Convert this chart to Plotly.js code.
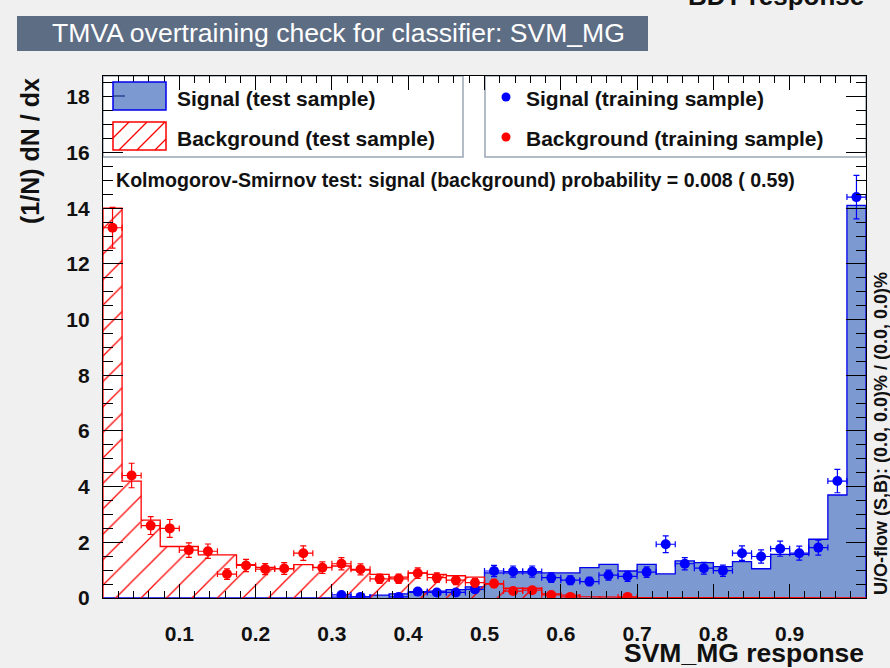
<!DOCTYPE html>
<html>
<head>
<meta charset="utf-8">
<script src="https://cdn.plot.ly/plotly-3.0.1.min.js"></script>
<style>
  html, body { margin: 0; padding: 0; background: #f0f0f0; }
  #plot { width: 890px; height: 668px; }
</style>
</head>
<body>
<div id="plot"></div>
<script>
// SVM_MG classifier response, 40 bins on [0, 1]
const binCenters = [
  0.0125, 0.0375, 0.0625, 0.0875, 0.1125, 0.1375, 0.1625, 0.1875, 0.2125, 0.2375,
  0.2625, 0.2875, 0.3125, 0.3375, 0.3625, 0.3875, 0.4125, 0.4375, 0.4625, 0.4875,
  0.5125, 0.5375, 0.5625, 0.5875, 0.6125, 0.6375, 0.6625, 0.6875, 0.7125, 0.7375,
  0.7625, 0.7875, 0.8125, 0.8375, 0.8625, 0.8875, 0.9125, 0.9375, 0.9625, 0.9875
];

// Test samples (histograms)
const signalTest = [
  0, 0, 0, 0, 0, 0, 0, 0, 0, 0,
  0, 0, 0.03, 0.05, 0.1, 0.15, 0.2, 0.25, 0.3, 0.4,
  0.9, 0.9, 0.9, 0.9, 0.9, 1.09, 1.21, 0.97, 1.21, 0.87,
  1.33, 1.27, 1.13, 1.31, 1.05, 1.57, 1.57, 2.11, 3.7, 14.1
];
const backgroundTest = [
  14.0, 4.2, 2.8, 1.85, 1.85, 1.55, 1.55, 1.2, 1.1, 1.05,
  1.2, 1.1, 1.15, 1.0, 0.85, 0.75, 0.9, 0.85, 0.8, 0.75,
  0.5, 0.35, 0.35, 0.15, 0.1, 0.05, 0.03, 0.02, 0, 0,
  0, 0, 0, 0, 0, 0, 0, 0, 0, 0
];

// Training samples (points with errors)
const signalTrain = [
  null, null, null, null, null, null, null, null, null, null,
  null, null, 0.11, 0.04, null, 0.04, 0.23, 0.2, 0.2, 0.31,
  0.97, 0.95, 0.95, 0.73, 0.64, 0.59, 0.82, 0.78, 0.93, 1.93,
  1.23, 1.07, 0.98, 1.61, 1.49, 1.77, 1.61, 1.81, 4.2, 14.4
];
const signalTrainErr = [
  null, null, null, null, null, null, null, null, null, null,
  null, null, 0.07, 0.04, null, 0.04, 0.1, 0.09, 0.09, 0.11,
  0.2, 0.2, 0.2, 0.17, 0.16, 0.15, 0.18, 0.18, 0.19, 0.3,
  0.22, 0.21, 0.2, 0.26, 0.24, 0.27, 0.25, 0.27, 0.42, 0.78
];
const backgroundTrain = [
  13.3, 4.4, 2.6, 2.5, 1.72, 1.68, 0.86, 1.17, 1.04, 1.06,
  1.61, 1.09, 1.23, 1.03, 0.69, 0.69, 0.89, 0.73, 0.64, 0.55,
  0.52, 0.25, 0.28, 0.11, 0.04, null, null, 0.04, null, null,
  null, null, null, null, null, null, null, null, null, null
];
const backgroundTrainErr = [
  0.73, 0.44, 0.32, 0.32, 0.26, 0.26, 0.19, 0.22, 0.2, 0.21,
  0.26, 0.21, 0.22, 0.2, 0.17, 0.17, 0.19, 0.17, 0.16, 0.15,
  0.15, 0.1, 0.11, 0.07, 0.04, null, null, 0.04, null, null,
  null, null, null, null, null, null, null, null, null, null
];

const xTicks = [0.1, 0.2, 0.3, 0.4, 0.5, 0.6, 0.7, 0.8, 0.9];
const yTicks = [0, 2, 4, 6, 8, 10, 12, 14, 16, 18];

const sigFill = '#7d99d1', sigLine = '#0000ee', bkgLine = '#ff0000';
const boldFont = 'Liberation Sans, Arial, Helvetica, sans-serif';

// Step outline of a histogram built from bin centres and contents
const binW = binCenters[1] - binCenters[0];
function stepOutline(vals) {
  const xs = [binCenters[0] - binW / 2], ys = [0];
  binCenters.forEach((c, i) => {
    xs.push(c - binW / 2, c + binW / 2);
    ys.push(vals[i], vals[i]);
  });
  xs.push(binCenters[binCenters.length - 1] + binW / 2);
  ys.push(0);
  return { x: xs, y: ys };
}

const sigStep = stepOutline(signalTest);
const bkgStep = stepOutline(backgroundTest);

const traces = [
  {
    type: 'scatter', mode: 'lines', x: sigStep.x, y: sigStep.y,
    line: { color: sigLine, width: 1.3 }, fill: 'tozeroy', fillcolor: sigFill,
    hoverinfo: 'skip', showlegend: false
  },
  {
    type: 'scatter', mode: 'lines', x: bkgStep.x, y: bkgStep.y,
    line: { color: bkgLine, width: 1.3 }, fill: 'tozeroy', fillcolor: 'rgba(0,0,0,0)',
    fillpattern: { shape: '/', fgcolor: bkgLine, bgcolor: 'rgba(0,0,0,0)', size: 18, solidity: 0.07 },
    hoverinfo: 'skip', showlegend: false
  },
  {
    type: 'scatter', mode: 'markers', x: binCenters, y: signalTrain,
    marker: { color: '#0000ff', size: 10 },
    error_y: { type: 'data', array: signalTrainErr, color: '#0000ff', thickness: 1.2, width: 3 },
    error_x: { type: 'constant', value: binW / 2, color: '#0000ff', thickness: 1.2, width: 3 },
    showlegend: false
  },
  {
    type: 'scatter', mode: 'markers', x: binCenters, y: backgroundTrain,
    marker: { color: '#ff0000', size: 10 },
    error_y: { type: 'data', array: backgroundTrainErr, color: '#ff0000', thickness: 1.2, width: 3 },
    error_x: { type: 'constant', value: binW / 2, color: '#ff0000', thickness: 1.2, width: 3 },
    showlegend: false
  }
];

// Frame geometry in pixels, for decorations placed in paper coordinates
const L = 103, R = 866, T = 76, B = 598;
const px = X => (X - L) / (R - L);
const py = Y => (B - Y) / (B - T);

const shapes = [
  // title banner
  { type: 'rect', xref: 'paper', yref: 'paper', x0: px(17), x1: px(648), y0: py(51), y1: py(16),
    fillcolor: '#5d6d84', line: { width: 0 } },
  // legend boxes
  { type: 'rect', xref: 'paper', yref: 'paper', layer: 'below', x0: px(103), x1: px(463), y0: py(157), y1: py(76),
    fillcolor: '#ffffff', line: { color: '#9aa5b5', width: 1.5 } },
  { type: 'rect', xref: 'paper', yref: 'paper', layer: 'below', x0: px(485), x1: px(866), y0: py(157), y1: py(76),
    fillcolor: '#ffffff', line: { color: '#9aa5b5', width: 1.5 } },
  // signal test swatch
  { type: 'rect', xref: 'paper', yref: 'paper', x0: px(113), x1: px(166), y0: py(110), y1: py(82),
    fillcolor: sigFill, line: { color: sigLine, width: 1.5 } },
  { type: 'line', xref: 'paper', yref: 'paper', x0: px(113), x1: px(125), y0: py(96), y1: py(96),
    line: { color: '#1a2a80', width: 1.2 } },
  // background test swatch
  { type: 'rect', xref: 'paper', yref: 'paper', x0: px(113), x1: px(166), y0: py(150), y1: py(122),
    fillcolor: 'rgba(0,0,0,0)', line: { color: bkgLine, width: 1.5 } },
  // training sample markers
  { type: 'circle', xref: 'paper', yref: 'paper', x0: px(501.5), x1: px(510.5), y0: py(101.5), y1: py(92.5),
    fillcolor: '#0000ff', line: { width: 0 } },
  { type: 'circle', xref: 'paper', yref: 'paper', x0: px(501.5), x1: px(510.5), y0: py(141.5), y1: py(132.5),
    fillcolor: '#ff0000', line: { width: 0 } }
];

// hatch lines inside the background swatch (45 degrees, clipped to the box)
(function () {
  const x0 = 113, x1 = 166, yTop = 122, yBot = 150, step = 18;
  for (let d = -30; d < 60; d += step) {
    let xa = x0 + d, ya = yBot;
    if (xa < x0) { ya = yBot - (x0 - xa); xa = x0; }
    let xb = x0 + d + (yBot - yTop), yb = yTop;
    if (xb > x1) { yb = yTop + (xb - x1); xb = x1; }
    if (xa >= x1 || ya <= yTop) continue;
    shapes.push({ type: 'line', xref: 'paper', yref: 'paper', x0: px(xa), y0: py(ya), x1: px(xb), y1: py(yb),
      line: { color: bkgLine, width: 1.2 } });
  }
})();

const ann = (text, X, Y, size, opts) => Object.assign({
  text: text, xref: 'paper', yref: 'paper', x: px(X), y: py(Y), showarrow: false,
  xanchor: 'left', yanchor: 'middle',
  font: { family: boldFont, size: size, color: '#111111', weight: 'bold' }
}, opts || {});

const annotations = [
  ann('TMVA overtraining check for classifier: SVM_MG', 338, 33, 26.6,
      { xanchor: 'center', font: { family: boldFont, size: 26.6, color: '#ffffff', weight: 'normal' } }),
  ann('BDT response', 866, 13, 26, { xanchor: 'right', yanchor: 'bottom' }),
  ann('Signal (test sample)', 175, 98, 21),
  ann('Background (test sample)', 175, 138, 21),
  ann('Signal (training sample)', 524, 98, 21),
  ann('Background (training sample)', 524, 138, 21),
  ann('Kolmogorov-Smirnov test: signal (background) probability = 0.008 ( 0.59)', 114, 180, 19.6),
  ann('(1/N) dN / dx', 30, 151, 25, { xanchor: 'center', textangle: -90 }),
  ann('SVM_MG response', 866, 653, 26.5, { xanchor: 'right' }),
  ann('U/O-flow (S,B): (0.0, 0.0)% / (0.0, 0.0)%', 881, 433, 18, { xanchor: 'center', textangle: -90 })
];

const axisFont = { family: boldFont, size: 21, color: '#111111', weight: 'bold' };

const layout = {
  width: 890, height: 668,
  margin: { l: L, r: 890 - R, t: T, b: 668 - B, pad: 0 },
  paper_bgcolor: '#f0f0f0', plot_bgcolor: '#ffffff',
  showlegend: false,
  xaxis: {
    range: [0, 1], tickvals: xTicks, ticks: 'inside', ticklen: 14, tickwidth: 1, tickcolor: '#000',
    mirror: 'allticks', showline: true, linecolor: '#000', linewidth: 1.2,
    showgrid: false, zeroline: false, tickfont: axisFont, ticklabelstandoff: 17,
    minor: { dtick: 0.02, tick0: 0, ticks: 'inside', ticklen: 7, tickcolor: '#000', showgrid: false }
  },
  yaxis: {
    range: [0, 18.75], tickvals: yTicks, ticks: 'inside', ticklen: 20, tickwidth: 1, tickcolor: '#000',
    mirror: 'allticks', showline: true, linecolor: '#000', linewidth: 1.2,
    showgrid: false, zeroline: false, tickfont: axisFont, ticklabelstandoff: 8,
    minor: { dtick: 0.5, tick0: 0, ticks: 'inside', ticklen: 10, tickcolor: '#000', showgrid: false }
  },
  shapes: shapes,
  annotations: annotations
};

Plotly.newPlot('plot', traces, layout, { staticPlot: true, displayModeBar: false });
</script>
</body>
</html>
